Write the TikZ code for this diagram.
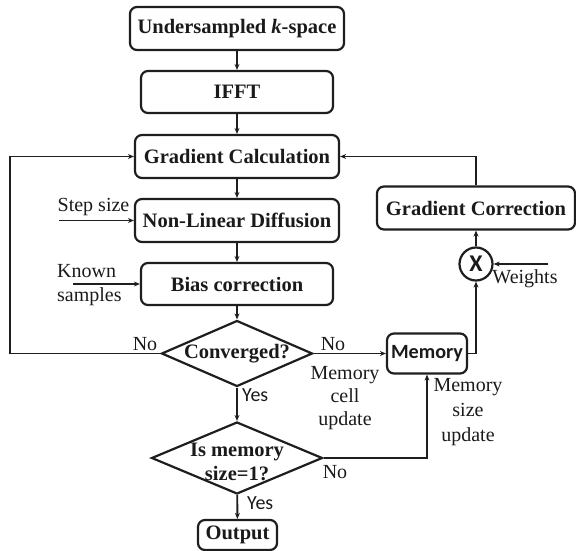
\documentclass[tikz,border=0pt]{standalone}
\usepackage{fontspec}
\setmainfont{Liberation Serif}
\newfontfamily\calfont{Carlito}
\usetikzlibrary{shapes.geometric,arrows.meta}
\definecolor{linec}{HTML}{1E1E1E}
\definecolor{txtc}{HTML}{1A1A1A}
\begin{document}
\begin{tikzpicture}[x=1pt,y=-1pt,
  box/.style={draw=linec, line width=2.2pt, rounded corners=7pt, inner sep=0pt,
    font=\bfseries\fontsize{20.5}{24}\selectfont, text=txtc},
  dia/.style={draw=linec, line width=2.2pt, diamond, inner sep=0pt},
  arr/.style={draw=linec, line width=1.9pt, -{Stealth[length=6pt,width=5pt]}},
  lab/.style={font=\fontsize{20}{24}\selectfont, text=txtc, inner sep=0pt},
  clab/.style={font=\calfont\fontsize{20}{24}\selectfont, text=txtc, inner sep=0pt}]
\useasboundingbox (0,0) rectangle (576,551);

% main column
\node[box, minimum width=214pt, minimum height=43pt] (us) at (237,28.5) {Undersampled \textit{k}-space};
\node[box, minimum width=192pt, minimum height=42pt] (ifft) at (237,92) {IFFT};
\node[box, minimum width=204pt, minimum height=43pt] (gc) at (237,156.5) {Gradient Calculation};
\node[box, minimum width=204pt, minimum height=43pt] (nld) at (237,220.5) {Non-Linear Diffusion};
\node[box, minimum width=192pt, minimum height=42pt] (bias) at (237,284) {Bias correction};
\node[dia, minimum width=151pt, minimum height=66pt,
  label={[font=\bfseries\fontsize{20.5}{24}\selectfont, text=txtc]center:Converged?}] (conv) at (237,353.5) {};
\node[dia, minimum width=171pt, minimum height=72pt,
  label={[font=\bfseries\fontsize{20.5}{24}\selectfont, text=txtc, align=center, yshift=-4pt]center:Is memory\\size=1?}] (ism) at (237,458) {};
\node[box, minimum width=79pt, minimum height=30pt] (out) at (237.5,535) {Output};

% right side
\node[box, minimum width=80pt, minimum height=40pt, font=\calfont\bfseries\fontsize{20.2}{24}\selectfont] (mem) at (427,353.5) {Memory};
\node[box, minimum width=198pt, minimum height=43pt] (gcorr) at (476,208) {Gradient Correction};
\node[circle, draw=linec, line width=2.2pt, minimum size=33pt, inner sep=0pt,
  font=\calfont\bfseries\fontsize{24}{26}\selectfont, text=txtc] (mult) at (476,264) {X};

% input coordinates
\coordinate (ss) at (59,220.5);
\coordinate (ks) at (73,284);
\coordinate (wt) at (548,264);
\coordinate (lx) at (10,0);

% main flow
\draw[arr] (us) -- (ifft);
\draw[arr] (ifft) -- (gc);
\draw[arr] (gc) -- (nld);
\draw[arr] (nld) -- (bias);
\draw[arr] (bias) -- (conv);
\draw[arr] (conv) -- (ism);
\draw[arr] (ism) -- (out);

% feedback loops
\draw[arr] (conv.west) -- (conv.west -| lx) |- (gc.west);
\draw[arr] (gcorr.north) |- (gc.east);
\draw[arr] (conv.east) -- (mem.west);
\draw[arr] (ism.east) -| (mem.south);
\draw[arr] (mem.east) -| (mult.south);
\draw[arr] (mult.north) -- (gcorr.south);

% inputs
\draw[arr] (ss) -- (nld.west);
\draw[arr] (ks) -- (bias.west);
\draw[arr] (wt) -- (mult.east);

% labels
\node[lab] (lss) at (93.5,207) {Step size};
\node[lab, align=left, anchor=west, font=\fontsize{20}{24}\selectfont] (lks) at (57,285) {Known\\samples};
\node[lab] (lno1) at (145,344) {No};
\node[lab] (lno2) at (333,344) {No};
\node[lab] (lno3) at (335,472) {No};
\node[clab, anchor=west] (lyes1) at (242,395) {Yes};
\node[clab, anchor=west] (lyes2) at (247,503) {Yes};
\node[lab, align=center, font=\fontsize{20}{23}\selectfont] (lcell) at (345,398) {Memory\\cell\\update};
\node[lab, align=center, font=\fontsize{20}{25}\selectfont] (lsize) at (468,412) {Memory\\size\\update};
\node[lab] (lwt) at (525,279) {Weights};
\end{tikzpicture}
\end{document}
